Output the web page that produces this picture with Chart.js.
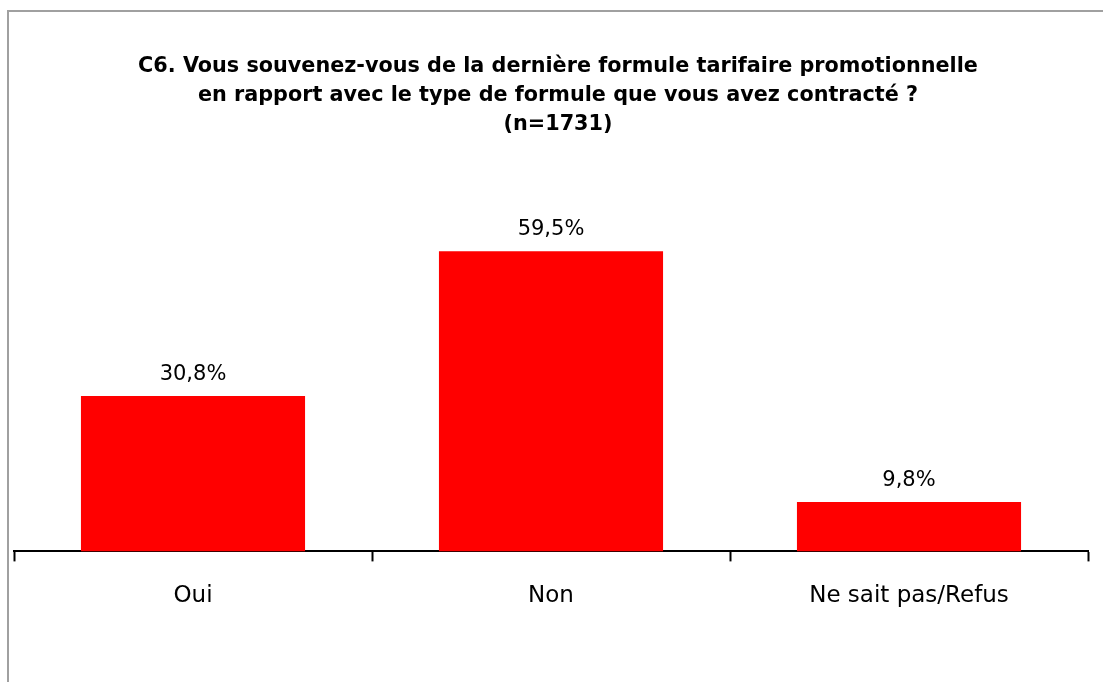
<!DOCTYPE html>
<html>
<head>
<meta charset="utf-8">
<script src="https://cdn.jsdelivr.net/npm/chart.js@4"></script>
<style>
  html, body { margin: 0; padding: 0; background: #fff; overflow: hidden; }
  #frame { position: absolute; left: 7px; top: 10px; width: 1200px; height: 800px; border: 2px solid #a0a0a0; }
  #wrap { position: absolute; left: 0; top: 0; width: 1103px; height: 682px; }
</style>
</head>
<body>
<div id="frame"></div>
<div id="wrap"><canvas id="chart"></canvas></div>
<script>
const categories = ['Oui', 'Non', 'Ne sait pas/Refus'];
const values = [30.8, 59.5, 9.8];
const titleLines = [
  'C6. Vous souvenez-vous de la dernière formule tarifaire promotionnelle',
  'en rapport avec le type de formule que vous avez contracté ?',
  '(n=1731)'
];

// titre centré un peu à droite, comme dans l'original
const titlePlugin = {
  id: 'titleLines',
  afterDraw(chart) {
    const ctx = chart.ctx;
    ctx.save();
    ctx.font = 'bold 20.75px "DejaVu Sans"';
    ctx.fillStyle = '#000';
    ctx.textAlign = 'center';
    ctx.textBaseline = 'alphabetic';
    titleLines.forEach((line, i) => {
      ctx.fillText(line, 558, 72 + i * 29);
    });
    ctx.restore();
  }
};

const valueLabels = {
  id: 'valueLabels',
  afterDatasetsDraw(chart) {
    const ctx = chart.ctx;
    const meta = chart.getDatasetMeta(0);
    ctx.save();
    ctx.font = '21px "DejaVu Sans"';
    ctx.fillStyle = '#000';
    ctx.textAlign = 'center';
    ctx.textBaseline = 'alphabetic';
    meta.data.forEach((bar, i) => {
      ctx.fillText(values[i].toFixed(1).replace('.', ',') + '%', bar.x, bar.y - 16);
    });
    ctx.restore();
  }
};

new Chart(document.getElementById('chart').getContext('2d'), {
  type: 'bar',
  data: {
    labels: categories,
    datasets: [{
      data: values,
      backgroundColor: '#ff0000',
      borderWidth: 0,
      barPercentage: 0.626,
      categoryPercentage: 1
    }]
  },
  options: {
    responsive: true,
    maintainAspectRatio: false,
    animation: false,
    layout: { padding: { top: 148, left: 14, right: 15, bottom: 51 } },
    plugins: {
      legend: { display: false },
      title: { display: false },
      tooltip: { enabled: false }
    },
    scales: {
      x: {
        grid: {
          display: true,
          drawOnChartArea: false,
          drawTicks: true,
          tickLength: 10,
          tickWidth: 2,
          tickColor: '#000',
          offset: true
        },
        border: { display: true, color: '#000', width: 2 },
        ticks: {
          color: '#000',
          font: { family: 'DejaVu Sans', size: 23 },
          padding: 21,
          maxRotation: 0
        }
      },
      y: {
        display: false,
        min: 0,
        max: 80
      }
    }
  },
  plugins: [titlePlugin, valueLabels]
});
</script>
</body>
</html>
